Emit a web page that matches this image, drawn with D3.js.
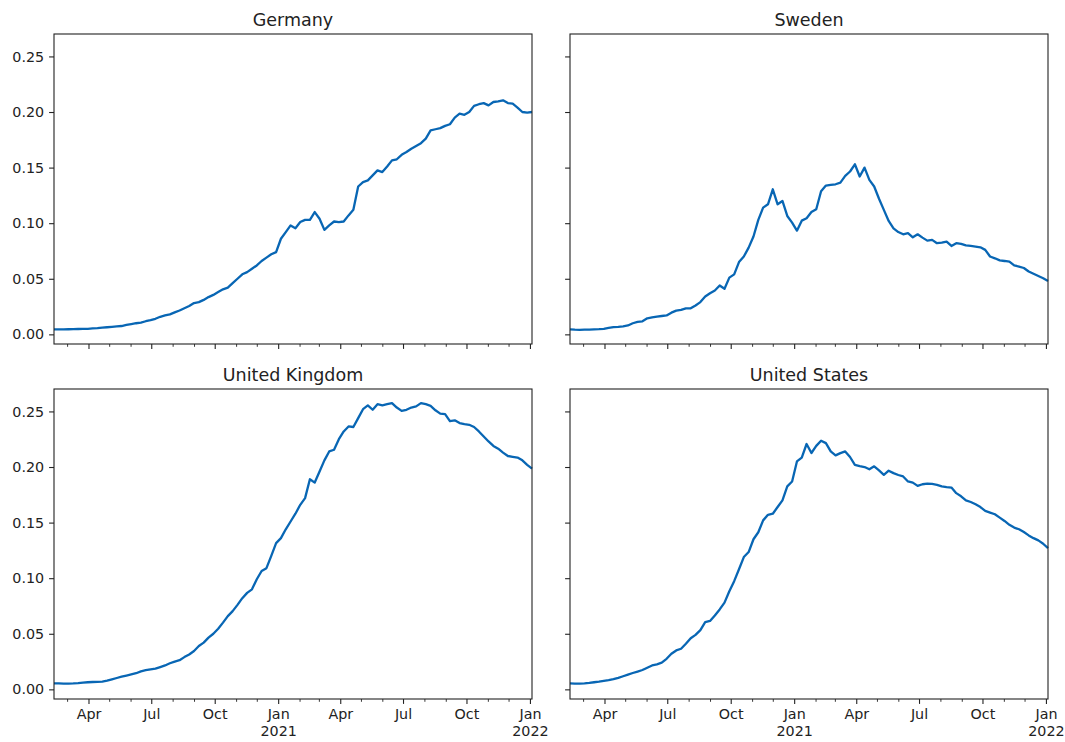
<!DOCTYPE html>
<html>
<head>
<meta charset="utf-8">
<script src="https://cdn.jsdelivr.net/npm/d3@7"></script>
<style>
  body { margin: 0; background: #fff; }
  text { font-family: "DejaVu Sans", sans-serif; fill: #222; }
</style>
</head>
<body>
<script>
// weekly series, first week starting 2020-02-11
var startDate = new Date(2020, 1, 11);
var countries = ["Germany", "Sweden", "United Kingdom", "United States"];
var yTicks = [0, 0.05, 0.10, 0.15, 0.20, 0.25];
var monthNames = ["Jan","Feb","Mar","Apr","May","Jun","Jul","Aug","Sep","Oct","Nov","Dec"];

var germany = [.0045,.0045,.0045,.0046,.0047,.0048,.0049,.0050,.0053,.0056,
 .0060,.0064,.0068,.0072,.0075,.0085,.0093,.0100,.0106,.0118,
 .0128,.0140,.0158,.0170,.0180,.0198,.0215,.0235,.0255,.0282,
 .0290,.0310,.0335,.0355,.0380,.0405,.0420,.0460,.0500,.0540,
 .0560,.0590,.0620,.0660,.0690,.0720,.0740,.0860,.0920,.0980,
 .0955,.1010,.1030,.1030,.1100,.1040,.0940,.0980,.1015,.1010,
 .1015,.1070,.1120,.1330,.1370,.1385,.1430,.1475,.1460,.1510,
 .1565,.1575,.1615,.1640,.1670,.1695,.1720,.1760,.1835,.1845,
 .1855,.1875,.1890,.1950,.1985,.1975,.2000,.2055,.2070,.2080,
 .2060,.2090,.2095,.2105,.2080,.2075,.2040,.2000,.1995,.2000];

var sweden = [.0045,.0042,.0040,.0042,.0043,.0045,.0047,.0050,.0058,.0065,
 .0067,.0072,.0080,.0100,.0112,.0117,.0144,.0152,.0160,.0165,
 .0170,.0195,.0213,.0220,.0234,.0234,.0260,.0290,.0340,.0370,
 .0395,.0440,.0410,.0510,.0540,.0650,.0700,.0780,.0880,.1030,
 .1140,.1170,.1305,.1170,.1200,.1065,.1005,.0933,.1023,.1044,
 .1100,.1125,.1287,.1338,.1345,.1350,.1365,.1425,.1465,.1530,
 .1420,.1500,.1390,.1330,.1220,.1120,.1020,.0954,.0920,.0900,
 .0910,.0873,.0900,.0870,.0843,.0850,.0820,.0825,.0834,.0795,
 .0820,.0813,.0800,.0795,.0790,.0783,.0760,.0700,.0684,.0665,
 .0660,.0654,.0620,.0610,.0597,.0565,.0545,.0525,.0505,.0480];

var uk = [.0054,.0053,.0052,.0051,.0053,.0056,.0060,.0064,.0066,.0068,
 .0070,.0078,.0090,.0102,.0114,.0124,.0134,.0145,.0162,.0172,
 .0180,.0186,.0200,.0215,.0235,.0250,.0262,.0290,.0314,.0345,
 .0390,.0420,.0465,.0500,.0545,.0600,.0659,.0704,.0760,.0820,
 .0868,.0900,.0990,.1065,.1090,.1200,.1315,.1360,.1440,.1510,
 .1580,.1660,.1720,.1890,.1860,.1960,.2060,.2140,.2155,.2250,
 .2320,.2365,.2360,.2440,.2520,.2554,.2515,.2565,.2555,.2565,
 .2575,.2535,.2505,.2515,.2535,.2545,.2575,.2565,.2550,.2510,
 .2480,.2476,.2413,.2420,.2395,.2385,.2380,.2360,.2320,.2275,
 .2230,.2190,.2165,.2130,.2099,.2092,.2085,.2060,.2020,.1985];

var us = [.0054,.0052,.0051,.0054,.0058,.0064,.0070,.0077,.0084,.0092,
 .0104,.0118,.0133,.0147,.0160,.0174,.0195,.0215,.0225,.0240,
 .0275,.0320,.0350,.0365,.0410,.0460,.0490,.0533,.0605,.0615,
 .0665,.0719,.0780,.0883,.0973,.1080,.1190,.1235,.1350,.1413,
 .1520,.1570,.1580,.1640,.1700,.1826,.1870,.2050,.2085,.2207,
 .2126,.2190,.2237,.2215,.2140,.2105,.2125,.2140,.2090,.2020,
 .2008,.2000,.1980,.2006,.1970,.1930,.1967,.1945,.1928,.1915,
 .1870,.1860,.1830,.1845,.1850,.1848,.1840,.1826,.1820,.1815,
 .1765,.1737,.1700,.1685,.1665,.1640,.1605,.1590,.1575,.1545,
 .1515,.1480,.1455,.1440,.1415,.1385,.1360,.1340,.1310,.1270];

var seriesList = [germany, sweden, uk, us];

var width = 1065, height = 742;
var colLeft = [54, 570], rowTop = [34, 389];
var w = 478, h = 310;
var lineColor = "#0866b4", ink = "#222";

var dates = germany.map(function(d, i) { return d3.timeDay.offset(startDate, 7 * i); });

var x = d3.scaleTime().domain(d3.extent(dates)).range([0, w]);
var all = d3.merge(seriesList);
var lo = d3.min(all), hi = d3.max(all), pad = (hi - lo) * 0.05;
var y = d3.scaleLinear().domain([lo - pad, hi + pad]).range([h, 0]);

var xEnd = d3.timeDay.offset(x.domain()[1], 1);
var majorTicks = d3.timeMonth.every(3).range(x.domain()[0], xEnd);
var minorTicks = d3.timeMonth.range(x.domain()[0], xEnd)
    .filter(function(d) { return d.getMonth() % 3 != 0; });

var svg = d3.select("body").append("svg")
    .attr("width", width)
    .attr("height", height);

seriesList.forEach(function(values, k) {
  var col = k % 2, row = Math.floor(k / 2);
  var g = svg.append("g")
      .attr("transform", "translate(" + colLeft[col] + "," + rowTop[row] + ")");

  // y axis
  var yAxis = g.append("g")
      .call(d3.axisLeft(y).tickValues(yTicks).tickSize(4.9).tickPadding(4.9)
            .tickFormat(col == 0 ? d3.format(".2f") : ""));
  yAxis.select(".domain").remove();
  yAxis.selectAll("line").attr("stroke", ink).attr("stroke-width", 1.1);
  yAxis.selectAll("text").style("font-size", "14.3px").attr("fill", ink);

  // minor x ticks
  var xMinor = g.append("g")
      .attr("transform", "translate(0," + h + ")")
      .call(d3.axisBottom(x).tickValues(minorTicks).tickSize(2.8).tickFormat(""));
  xMinor.select(".domain").remove();
  xMinor.selectAll("line").attr("stroke", ink).attr("stroke-width", 0.9);

  // major x ticks
  var xMajor = g.append("g")
      .attr("transform", "translate(0," + h + ")")
      .call(d3.axisBottom(x).tickValues(majorTicks).tickSize(4.9).tickPadding(4.9)
            .tickFormat(function(d) { return ""; }));
  xMajor.select(".domain").remove();
  xMajor.selectAll("line").attr("stroke", ink).attr("stroke-width", 1.1);

  if (row == 1) {
    xMajor.selectAll(".tick text").each(function(d) {
      var t = d3.select(this).style("font-size", "14.3px").attr("fill", ink);
      t.append("tspan").attr("x", 0).text(monthNames[d.getMonth()]);
      if (d.getMonth() == 0) {
        t.append("tspan").attr("x", 0).attr("dy", "1.2em").text(d.getFullYear());
      }
    });
  }

  // data line
  var line = d3.line()
      .x(function(d, i) { return x(dates[i]); })
      .y(function(d) { return y(d); });

  g.append("path")
      .datum(values)
      .attr("fill", "none")
      .attr("stroke", lineColor)
      .attr("stroke-width", 2.3)
      .attr("stroke-linejoin", "round")
      .attr("d", line);

  // frame
  g.append("rect")
      .attr("width", w)
      .attr("height", h)
      .attr("fill", "none")
      .attr("stroke", ink)
      .attr("stroke-width", 1.1);

  // title
  g.append("text")
      .attr("x", w / 2)
      .attr("y", -8.4)
      .attr("text-anchor", "middle")
      .style("font-size", "17.5px")
      .text(countries[k]);
});
</script>
</body>
</html>
